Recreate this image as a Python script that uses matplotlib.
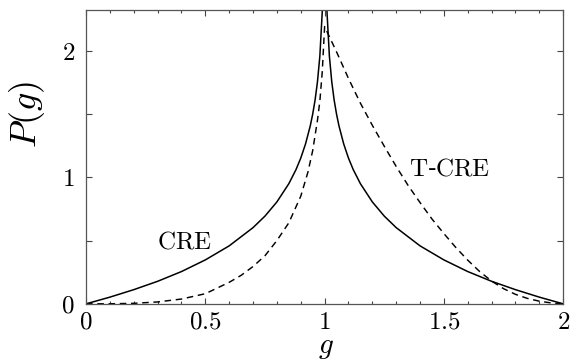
import numpy as np
import matplotlib
matplotlib.use("Agg")
import matplotlib.pyplot as plt
from matplotlib.ticker import MultipleLocator

plt.rcParams["mathtext.fontset"] = "cm"
plt.rcParams["font.family"] = "serif"
plt.rcParams["font.serif"] = ["DejaVu Serif"]

# CRE (solid), values; nan marks the divergence at g = 1
cre_g = [0.0, 0.1, 0.2, 0.3, 0.4, 0.5, 0.6, 0.7, 0.75, 0.8, 0.85, 0.88,
         0.9, 0.92, 0.94, 0.95, 0.96, 0.97, 0.98, 0.99, 0.992, np.nan,
         1.008, 1.01, 1.02, 1.03, 1.04, 1.05, 1.06, 1.08, 1.1, 1.12, 1.15,
         1.2, 1.25, 1.3, 1.4, 1.5, 1.6, 1.7, 1.8, 1.9, 2.0]
cre_p = [0.0, 0.053, 0.112, 0.178, 0.255, 0.347, 0.458, 0.602, 0.693,
         0.805, 0.949, 1.06, 1.151, 1.263, 1.407, 1.498, 1.609, 1.753,
         1.956, 2.303, 2.41, np.nan,
         2.41, 2.303, 1.956, 1.753, 1.609, 1.498, 1.407, 1.263, 1.151,
         1.06, 0.949, 0.805, 0.693, 0.602, 0.458, 0.347, 0.255, 0.178,
         0.112, 0.053, 0.0]

# T-CRE (dashed)
tcre_g = [0.0, 0.1, 0.2, 0.3, 0.4, 0.5, 0.55, 0.6, 0.65, 0.7, 0.75, 0.8,
          0.85, 0.9, 0.93, 0.95, 0.97, 0.98, 0.99, 1.0,
          1.05, 1.1, 1.15, 1.2, 1.25, 1.3, 1.35, 1.4, 1.45, 1.5, 1.55, 1.6,
          1.65, 1.7, 1.75, 1.8, 1.85, 1.9, 1.95, 2.0]
tcre_p = [0.0, 0.0005, 0.004, 0.015, 0.038, 0.08, 0.125, 0.17, 0.225,
          0.295, 0.38, 0.5, 0.64, 0.85, 1.04, 1.21, 1.45, 1.6, 1.83, 2.19,
          1.99, 1.78, 1.585, 1.41, 1.245, 1.085, 0.935, 0.8, 0.67, 0.555,
          0.445, 0.345, 0.255, 0.18, 0.12, 0.075, 0.043, 0.021, 0.007, 0.0]

xticks = [0, 0.5, 1, 1.5, 2]
xtick_labels = ["0", "0.5", "1", "1.5", "2"]
yticks = [0, 0.5, 1, 1.5, 2]
ytick_labels = ["0", "", "1", "", "2"]

fig = plt.figure(figsize=(5.7, 3.6), dpi=100)
ax = fig.add_axes([0.151, 0.156, 0.837, 0.816])

ax.plot(cre_g, cre_p, color="black", lw=1.1)
ax.plot(tcre_g, tcre_p, color="black", lw=1.05, dashes=(4.5, 3.2))

ax.set_xlim(0, 2)
ax.set_ylim(0, 2.32)

ax.set_xticks(xticks)
ax.set_xticklabels(["$%s$" % s for s in xtick_labels])
ax.xaxis.set_minor_locator(MultipleLocator(0.1))
ax.set_yticks(yticks)
ax.set_yticklabels(["$%s$" % s if s else "" for s in ytick_labels])

ax.tick_params(which="both", direction="in", top=True, right=True,
               color="#444444", width=0.8)
ax.tick_params(which="major", length=4.5, labelsize=18, pad=5)
ax.tick_params(which="minor", length=2.5)
ax.tick_params(axis="y", pad=8)
for sp in ax.spines.values():
    sp.set_color("#555555")
    sp.set_linewidth(0.9)

ax.set_xlabel("$g$", fontsize=21)
ax.set_ylabel("$P(g)$", fontsize=26)
ax.xaxis.set_label_coords(0.502, -0.1)
ax.yaxis.set_label_coords(-0.082, 0.643)

ax.text(0.413, 0.49, r"$\mathrm{CRE}$", fontsize=18, ha="center", va="center")
ax.text(1.522, 1.066, r"$\mathrm{T}$-$\mathrm{CRE}$", fontsize=18,
        ha="center", va="center")

fig.savefig("out.png", dpi=100)
